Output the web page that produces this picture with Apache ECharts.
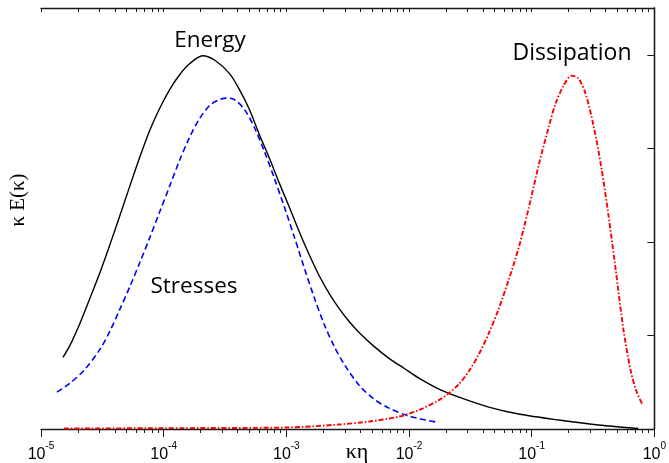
<!DOCTYPE html>
<html>
<head>
<meta charset="utf-8">
<script src="https://cdn.jsdelivr.net/npm/echarts@6/dist/echarts.min.js"></script>
<style>
html,body{margin:0;padding:0;background:#fff;}
#c{width:669px;height:463px;}
</style>
</head>
<body>
<div id="c"></div>
<script>
// x values are log10(kappa*eta); y values are kappa*E(kappa) (arbitrary units)
const energyLogK = [-4.821,-4.764,-4.683,-4.602,-4.520,-4.439,-4.358,-4.276,-4.195,-4.114,-4.033,-3.951,-3.870,-3.789,-3.683,-3.577,-3.463,-3.382,-3.301,-3.220,-3.138,-3.057,-2.976,-2.894,-2.813,-2.732,-2.650,-2.569,-2.488,-2.407,-2.285,-2.163,-2.041,-1.919,-1.756,-1.593,-1.350,-1.106,-0.780,-0.455,-0.130];
const energyE = [0.766,0.894,1.128,1.394,1.670,1.968,2.277,2.596,2.904,3.191,3.426,3.628,3.787,3.904,3.989,3.936,3.798,3.628,3.415,3.149,2.894,2.628,2.372,2.106,1.862,1.638,1.447,1.287,1.149,1.032,0.883,0.755,0.649,0.543,0.426,0.340,0.234,0.160,0.096,0.043,0.005];

const stressLogK = [-4.870,-4.764,-4.642,-4.520,-4.439,-4.358,-4.276,-4.195,-4.114,-4.033,-3.951,-3.870,-3.789,-3.707,-3.626,-3.545,-3.488,-3.423,-3.341,-3.260,-3.179,-3.098,-3.016,-2.935,-2.854,-2.772,-2.691,-2.610,-2.528,-2.407,-2.285,-2.163,-2.000,-1.780];
const stressE = [0.394,0.489,0.638,0.851,1.043,1.277,1.521,1.777,2.043,2.319,2.596,2.872,3.117,3.319,3.457,3.521,3.537,3.521,3.415,3.223,2.968,2.681,2.372,2.053,1.723,1.404,1.117,0.883,0.691,0.468,0.319,0.223,0.138,0.074];

const dissLogK = [-4.813,-3.992,-3.000,-2.569,-2.325,-2.081,-1.919,-1.756,-1.675,-1.593,-1.512,-1.431,-1.350,-1.268,-1.187,-1.106,-1.024,-0.943,-0.862,-0.805,-0.740,-0.675,-0.618,-0.561,-0.496,-0.431,-0.374,-0.317,-0.252,-0.195,-0.146,-0.098];
const dissE = [0.005,0.009,0.016,0.048,0.080,0.133,0.202,0.309,0.383,0.479,0.617,0.798,1.021,1.287,1.596,1.936,2.362,2.819,3.223,3.479,3.670,3.777,3.745,3.585,3.245,2.787,2.287,1.723,1.064,0.638,0.404,0.266];

const decadeExponents = [-5,-4,-3,-2,-1,0];
const minorMultipliers = [2,3,4,5,6,7,8,9];
const yTickValues = [0,1,2,3,4];

const xTitle = 'κη';
const yTitle = 'κ E(κ)';
const labelEnergy = 'Energy';
const labelStress = 'Stresses';
const labelDiss = 'Dissipation';

function pairs(xs, ys){ return xs.map((x,i)=>[x, ys[i]]); }
const minorTicks = [];
decadeExponents.slice(0,-1).forEach(d => minorMultipliers.forEach(m => minorTicks.push(d + Math.log10(m))));
const allTicks = decadeExponents.concat(minorTicks);

const axisColor = '#1a1a1a';
const chart = echarts.init(document.getElementById('c'), null, {renderer:'canvas'});
chart.setOption({
  animation: false,
  backgroundColor: '#fff',
  grid: {left: 41, right: 12, top: 8, bottom: 33, containLabel: false},
  xAxis: [
    {
      type: 'value', min: -5, max: 0, interval: 1, position: 'bottom',
      axisLine: {show: true, lineStyle: {color: axisColor, width: 1.3}},
      axisTick: {show: true, inside: false, length: 8, lineStyle: {color: axisColor, width: 1}, customValues: decadeExponents},
      splitLine: {show: false},
      axisLabel: {
        show: true, margin: 12, customValues: decadeExponents,
        formatter: v => '{b|10}{s|' + v + '}',
        rich: {
          b: {fontSize: 16, fontFamily: 'Liberation Sans', color: '#000', lineHeight: 22, verticalAlign: 'bottom'},
          s: {fontSize: 10, fontFamily: 'Liberation Sans', color: '#000', lineHeight: 10, verticalAlign: 'top'}
        }
      }
    },
    {
      type: 'value', min: -5, max: 0, position: 'bottom',
      axisLine: {show: false},
      axisTick: {show: true, inside: false, length: 4, lineStyle: {color: axisColor, width: 1}, customValues: minorTicks},
      axisLabel: {show: false}, splitLine: {show: false}
    },
    {
      type: 'value', min: -5, max: 0, position: 'top',
      axisLine: {show: true, lineStyle: {color: axisColor, width: 1.3}},
      axisTick: {show: true, inside: true, length: 4, lineStyle: {color: axisColor, width: 1}, customValues: allTicks},
      axisLabel: {show: false}, splitLine: {show: false}
    }
  ],
  yAxis: [
    {
      type: 'value', min: 0, max: 4.5, interval: 1, position: 'left',
      axisLine: {show: true, lineStyle: {color: axisColor, width: 1.3}},
      axisTick: {show: true, inside: false, length: 7, lineStyle: {color: axisColor, width: 1}, customValues: yTickValues},
      axisLabel: {show: false}, splitLine: {show: false}
    },
    {
      type: 'value', min: 0, max: 4.5, interval: 1, position: 'right',
      axisLine: {show: true, lineStyle: {color: axisColor, width: 1.3}},
      axisTick: {show: true, inside: true, length: 5, lineStyle: {color: axisColor, width: 1}, customValues: yTickValues},
      axisLabel: {show: false}, splitLine: {show: false}
    }
  ],
  series: [
    {type: 'line', name: labelEnergy, data: pairs(energyLogK, energyE), showSymbol: false, smooth: 0.3,
     lineStyle: {color: '#000', width: 1.4, type: 'solid'}, z: 3},
    {type: 'line', name: labelStress, data: pairs(stressLogK, stressE), showSymbol: false, smooth: 0.3,
     lineStyle: {color: '#0000ff', width: 1.6, type: [6, 3.5]}, z: 3},
    {type: 'line', name: labelDiss, data: pairs(dissLogK, dissE), showSymbol: false, smooth: 0.3,
     lineStyle: {color: '#ff0000', width: 1.9, type: [5, 2, 1.5, 2]}, z: 3}
  ],
  graphic: [
    {type: 'text', x: 210, y: 41, style: {text: labelEnergy, fontFamily: 'Open Sans', fontSize: 22.5, fill: '#000', textAlign: 'center', textVerticalAlign: 'middle'}},
    {type: 'text', x: 572, y: 53, style: {text: labelDiss, fontFamily: 'Open Sans', fontSize: 23, fill: '#000', textAlign: 'center', textVerticalAlign: 'middle'}},
    {type: 'text', x: 194, y: 287, style: {text: labelStress, fontFamily: 'Open Sans', fontSize: 22.5, fill: '#000', textAlign: 'center', textVerticalAlign: 'middle'}},
    {type: 'text', x: 357, y: 452, style: {text: xTitle, fontFamily: 'Liberation Serif', fontSize: 22, fill: '#000', textAlign: 'center', textVerticalAlign: 'middle'}},
    {type: 'text', x: 18, y: 200, rotation: Math.PI/2, style: {text: yTitle, fontFamily: 'Liberation Serif', fontSize: 21, fill: '#000', textAlign: 'center', textVerticalAlign: 'middle'}}
  ]
});
</script>
</body>
</html>
